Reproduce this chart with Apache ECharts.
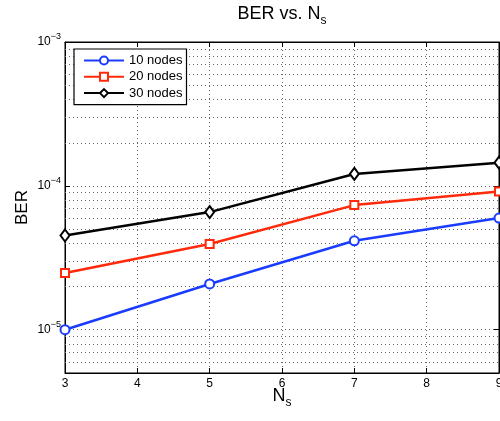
<!DOCTYPE html>
<html><head><meta charset="utf-8">
<script src="https://cdn.jsdelivr.net/npm/echarts@6/dist/echarts.min.js"></script>
<style>html,body{margin:0;padding:0;background:#fff}#c{width:500px;height:421px}</style>
</head><body><div id="c"></div>
<script>
const xValues = [3, 5, 7, 9];
const seriesNames = ['10 nodes', '20 nodes', '30 nodes'];
const ber10 = [1.0e-5, 2.08e-5, 4.15e-5, 5.97e-5];
const ber20 = [2.48e-5, 3.94e-5, 7.35e-5, 9.13e-5];
const ber30 = [4.52e-5, 6.57e-5, 1.21e-4, 1.45e-4];
const xMin = 3, xMax = 9, xStep = 1;
const yMin = 5e-6, yMax = 1e-3;
const minorGrid = [6e-6, 7e-6, 8e-6, 9e-6,
  2e-5, 3e-5, 4e-5, 5e-5, 6e-5, 7e-5, 8e-5, 9e-5,
  2e-4, 3e-4, 4e-4, 5e-4, 6e-4, 7e-4, 8e-4, 9e-4];

const FONT = "'Liberation Sans', Arial, Helvetica, sans-serif";
const colors = ['#1a3cff', '#ff2a0a', '#000000'];
const symbols = ['emptyCircle', 'emptyRect', 'emptyDiamond'];
const sizes = [9, 8, [9, 12]];
const allData = [ber10, ber20, ber30];

function pow10Label(v) {
  const e = Math.log10(v);
  if (Math.abs(e - Math.round(e)) > 1e-6) return '';
  return '{b|10}{s|\u2212' + Math.abs(Math.round(e)) + '}';
}

const dotted = { type: [1, 3], color: '#666', width: 1 };

const series = allData.map((arr, i) => ({
  name: seriesNames[i],
  type: 'line',
  data: xValues.map((x, j) => [x, arr[j]]),
  symbol: symbols[i],
  symbolSize: sizes[i],
  z: 5,
  lineStyle: { color: colors[i], width: 2.5 },
  itemStyle: { color: colors[i], borderColor: colors[i], borderWidth: 2 }
}));
series.push({
  name: 'minor-grid',
  type: 'custom', z: 1, silent: true,
  data: minorGrid.map(v => [v]),
  encode: { y: 0 },
  renderItem: function (params, api) {
    const v = api.value(0);
    const p1 = api.coord([xMin, v]);
    const p2 = api.coord([xMax, v]);
    return {
      type: 'line',
      shape: { x1: p1[0], y1: Math.round(p1[1]) + 0.5, x2: p2[0], y2: Math.round(p2[1]) + 0.5 },
      style: { stroke: '#666', lineWidth: 1, lineDash: [1, 3] },
      silent: true
    };
  }
});

const chart = echarts.init(document.getElementById('c'), null, { renderer: 'canvas' });
chart.setOption({
  animation: false,
  backgroundColor: '#fff',
  textStyle: { fontFamily: FONT },
  title: {
    text: '{a|BER vs. N}{s|s}',
    left: 282, top: 1, textAlign: 'center', padding: 0,
    textStyle: {
      fontWeight: 'normal',
      rich: {
        a: { fontSize: 18, fontFamily: FONT, color: '#000', fontWeight: 'normal' },
        s: { fontSize: 12, fontFamily: FONT, color: '#000', fontWeight: 'normal', padding: [14, 0, 0, 0] }
      }
    }
  },
  grid: { left: 65, right: 1, top: 42, bottom: 48, show: true, borderColor: '#000', borderWidth: 1, containLabel: false, outerBoundsMode: 'none' },
  legend: {
    data: seriesNames,
    left: 74, top: 49, orient: 'vertical',
    padding: [5, 4, 5, 9],
    itemWidth: 40, itemHeight: 10, itemGap: 3.3,
    borderColor: '#000', borderWidth: 1.2, backgroundColor: '#fff',
    textStyle: { fontSize: 13, fontFamily: FONT, color: '#000' },
    z: 10
  },
  xAxis: [{
    type: 'value', min: xMin, max: xMax, interval: xStep,
    name: '{a|N}{s|s}', nameLocation: 'middle', nameGap: 10, nameMoveOverlap: false,
    nameTextStyle: { rich: {
      a: { fontSize: 18, fontFamily: FONT, color: '#000' },
      s: { fontSize: 12, fontFamily: FONT, color: '#000', padding: [14, 0, 0, 0] }
    } },
    axisLine: { lineStyle: { color: '#000', width: 1 } },
    axisTick: { inside: true, length: 5, lineStyle: { color: '#000' } },
    axisLabel: { color: '#000', fontSize: 12, fontFamily: FONT, margin: 5 },
    splitLine: { show: true, lineStyle: dotted }
  }, {
    type: 'value', min: xMin, max: xMax, interval: xStep, position: 'top',
    axisLine: { lineStyle: { color: '#000', width: 1 } },
    axisTick: { inside: true, length: 5, lineStyle: { color: '#000' } },
    axisLabel: { show: false }, splitLine: { show: false }
  }],
  yAxis: [{
    type: 'log', logBase: 10, min: yMin, max: yMax,
    name: 'BER', nameLocation: 'middle', nameGap: 34, nameRotate: 90, nameMoveOverlap: false,
    nameTextStyle: { fontSize: 17, fontFamily: FONT, color: '#000' },
    axisLine: { lineStyle: { color: '#000', width: 1 } },
    axisTick: { inside: true, length: 5, lineStyle: { color: '#000' } },
    axisLabel: {
      formatter: pow10Label, margin: 4,
      rich: {
        b: { fontSize: 12, fontFamily: FONT, color: '#000' },
        s: { fontSize: 9, fontFamily: FONT, color: '#000', padding: [0, 0, 11, 0] }
      }
    },
    splitLine: { show: true, lineStyle: dotted }
  }, {
    type: 'log', logBase: 10, min: yMin, max: yMax, position: 'right',
    axisLine: { lineStyle: { color: '#000', width: 1 } },
    axisTick: { inside: true, length: 5, lineStyle: { color: '#000' } },
    axisLabel: { show: false }, splitLine: { show: false }
  }],
  series: series
});
</script></body></html>
